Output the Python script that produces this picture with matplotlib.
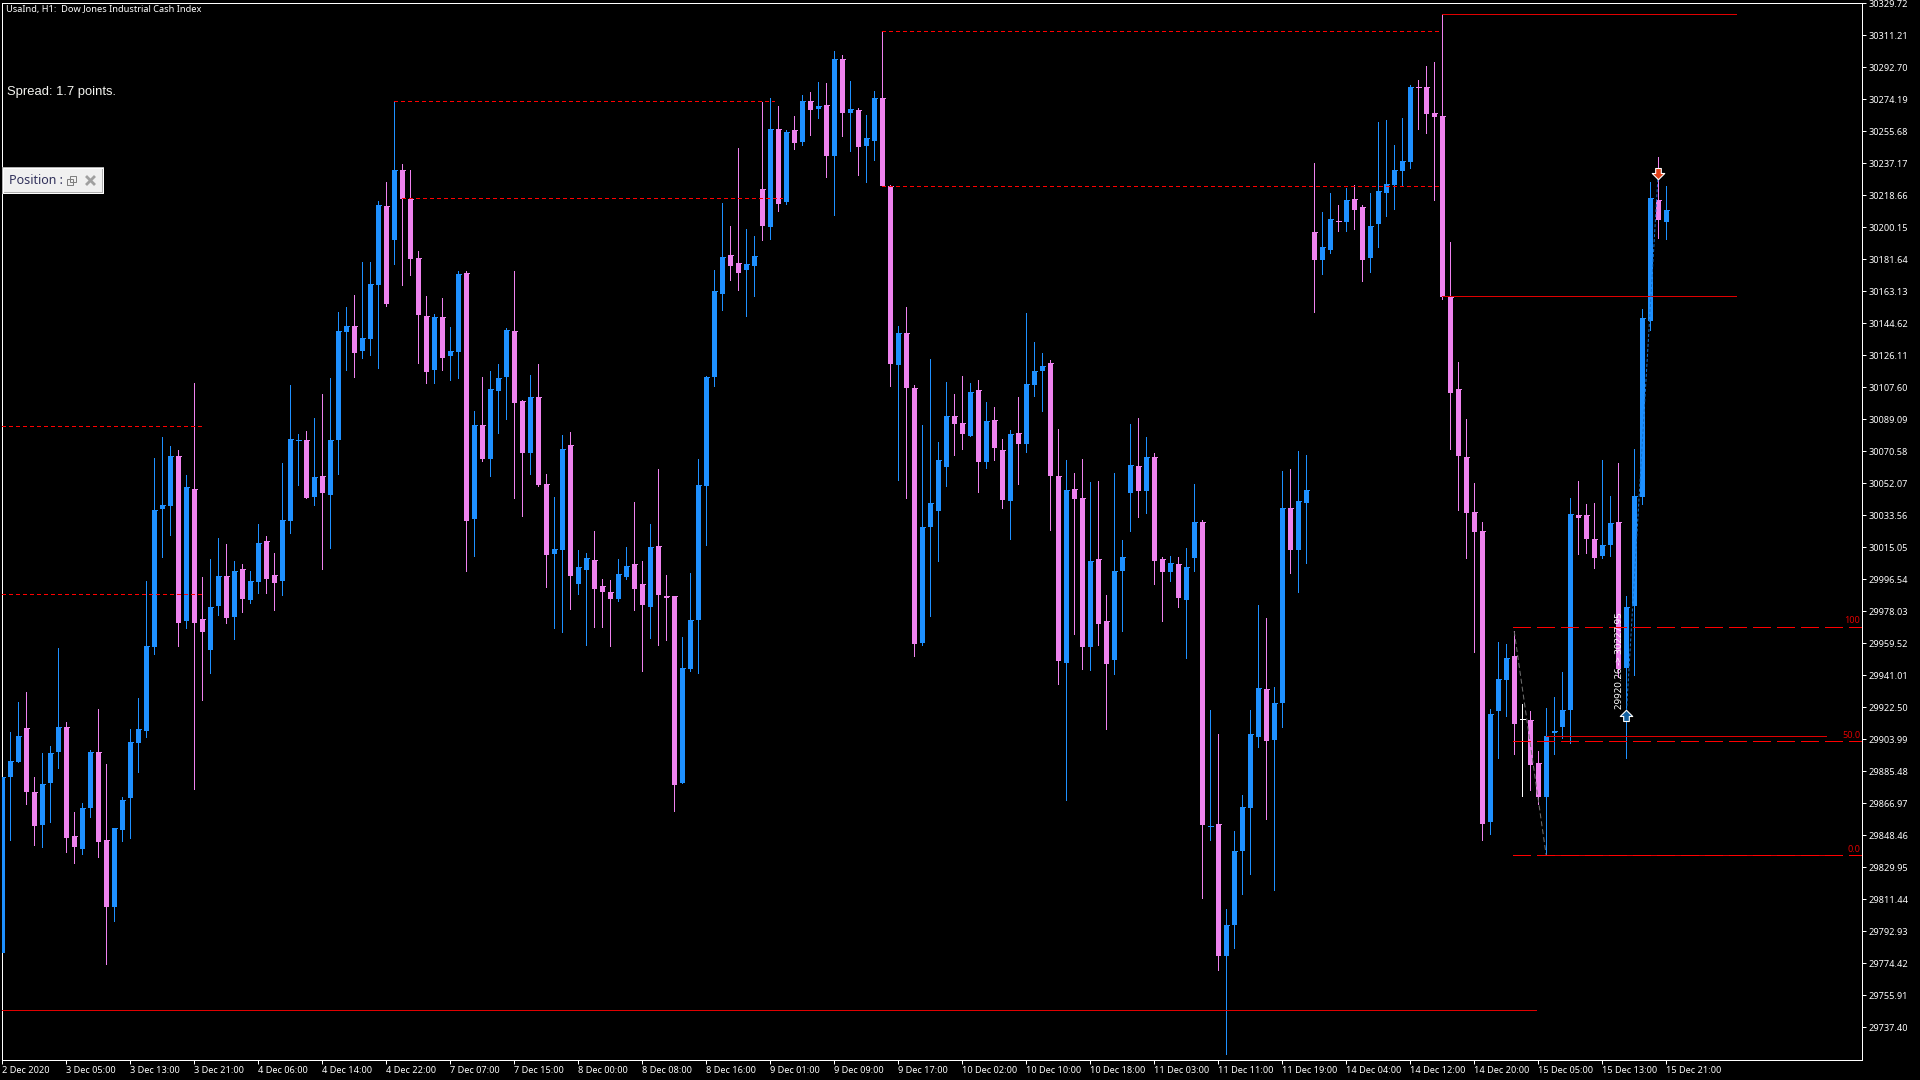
import matplotlib
matplotlib.use("Agg")
import matplotlib.pyplot as plt
from matplotlib.patches import Rectangle
from matplotlib.transforms import ScaledTranslation
import numpy as np

# hourly candles, one entry per bar: u = rising, d = falling, f = flat
directions = (
    "uuudduuudd" "uudduuuuuu" "uududduudu" "duudduuudu" "duuuduuudu"
    "dddduduudu" "duuudduddu" "uduuddduud" "duddduuuuu" "udduududud"
    "ududududuu" "ddudduuuud" "dududduduu" "uddudduddu" "uududduduu"
    "duduuuuudu" "uduuduudud" "duuuuuuddd" "dddddduuud" "fdduuuuddd"
    "uuduuuudu"
)
highs = [
    29882.1, 29908.0, 29925.5, 29931.3, 29882.1, 29896.0, 29900.0, 29956.6, 29913.9, 29861.8,
    29866.9, 29897.6, 29921.3, 29889.6, 29852.6, 29870.5, 29909.8, 29927.7, 29995.4, 30066.6,
    30078.7, 30073.5, 30071.1, 30056.8, 30110.0, 29997.6, 30008.1, 30020.3, 30017.1, 30007.0,
    30005.2, 30001.2, 30028.3, 30021.5, 30011.5, 30063.8, 30108.8, 30080.5, 30082.3, 30089.7,
    30103.6, 30112.8, 30151.0, 30154.0, 30160.8, 30179.9, 30179.9, 30215.1, 30226.3, 30272.9,
    30236.6, 30233.1, 30186.2, 30160.4, 30149.8, 30159.2, 30142.2, 30174.7, 30174.7, 30093.8,
    30113.4, 30117.0, 30121.0, 30141.9, 30174.7, 30100.2, 30114.6, 30121.0, 30057.4, 30044.1,
    30079.9, 30081.7, 30013.3, 30011.5, 30024.3, 29996.6, 29996.0, 30008.1, 30015.1, 30041.0,
    30006.9, 30028.4, 30060.1, 29998.8, 29986.8, 29962.9, 30000.0, 30065.9, 30113.9, 30175.3,
    30214.1, 30200.8, 30245.8, 30199.0, 30195.0, 30272.5, 30274.7, 30270.1, 30256.4, 30264.3,
    30276.5, 30278.3, 30284.1, 30283.5, 30302.0, 30299.6, 30284.6, 30268.9, 30264.9, 30278.9,
    30313.3, 30224.9, 30142.8, 30154.0, 30108.8, 30085.7, 30123.9, 30075.8, 30110.5, 30103.5,
    30113.9, 30109.9, 30111.6, 30098.9, 30096.1, 30077.6, 30082.8, 30101.8, 30150.4, 30133.8,
    30127.7, 30123.1, 30083.4, 30065.3, 30058.3, 30066.4, 30052.6, 30053.2, 29987.3, 30058.3,
    30019.2, 30086.2, 30089.7, 30078.8, 30069.8, 30009.7, 30010.3, 30009.7, 30014.9, 30051.4,
    30030.7, 29920.8, 29907.0, 29805.7, 29850.9, 29871.6, 29920.8, 29981.5, 29974.0, 29934.0,
    30058.9, 30060.6, 30071.0, 30068.7, 30237.2, 30208.8, 30219.9, 30212.9, 30222.7, 30224.5,
    30212.9, 30219.9, 30261.0, 30262.1, 30247.6, 30263.1, 30282.3, 30285.2, 30293.2, 30295.6,
    30322.9, 30191.4, 30122.1, 30089.1, 30052.2, 30029.5, 29921.3, 29960.1, 29958.9, 29966.5,
    29924.2, 29920.2, 29897.1, 29921.9, 29928.3, 29942.7, 30043.4, 30053.2, 30039.9, 30040.5,
    30065.4, 30044.5, 30063.8, 29986.7, 30071.8, 30152.8, 30226.3, 30240.6, 30223.9,
]
body_tops = [
    29882.1, 29891.2, 29905.8, 29910.4, 29873.3, 29877.9, 29896.0, 29911.0, 29911.0, 29848.0,
    29864.1, 29896.4, 29896.4, 29845.6, 29852.6, 29868.7, 29902.2, 29909.8, 29957.8, 30036.5,
    30039.5, 30067.7, 30067.7, 30049.8, 30048.6, 29973.5, 29980.3, 29998.2, 29998.2, 30001.2,
    30002.4, 29995.4, 30017.3, 30018.5, 29998.8, 30030.7, 30077.5, 30076.9, 30076.9, 30055.6,
    30056.2, 30076.9, 30140.0, 30142.8, 30142.8, 30136.1, 30167.1, 30212.9, 30212.3, 30233.1,
    30233.1, 30216.7, 30182.3, 30148.6, 30148.2, 30148.2, 30128.5, 30172.9, 30173.5, 30085.7,
    30085.7, 30106.4, 30112.8, 30140.7, 30140.0, 30099.6, 30101.8, 30101.8, 30051.6, 30013.9,
    30071.8, 30074.1, 30003.5, 30008.7, 30007.5, 29992.6, 29989.0, 29999.4, 30004.1, 30005.1,
    29993.6, 30015.1, 30015.7, 29986.8, 29986.8, 29945.0, 29972.9, 30050.9, 30113.3, 30163.2,
    30182.9, 30184.1, 30179.3, 30178.7, 30183.5, 30222.1, 30256.8, 30256.8, 30255.2, 30256.4,
    30273.1, 30273.1, 30270.1, 30270.7, 30297.4, 30297.4, 30268.3, 30267.9, 30251.6, 30274.7,
    30274.7, 30223.9, 30138.9, 30138.9, 30107.0, 30026.7, 30040.6, 30065.3, 30090.8, 30090.8,
    30086.8, 30104.7, 30105.8, 30088.0, 30088.6, 30071.6, 30080.5, 30081.1, 30109.3, 30116.8,
    30120.2, 30121.4, 30056.1, 30048.0, 30048.6, 30043.4, 30007.4, 30008.0, 29972.3, 30001.1,
    30009.7, 30062.4, 30061.8, 30067.0, 30067.0, 30008.0, 30006.2, 30005.1, 30003.9, 30029.6,
    30029.6, 29854.0, 29854.9, 29796.5, 29839.6, 29864.7, 29907.0, 29933.4, 29932.9, 29924.8,
    30037.6, 30037.6, 30041.6, 30048.0, 30197.2, 30188.6, 30204.8, 30203.6, 30215.7, 30216.3,
    30211.7, 30200.8, 30220.9, 30225.1, 30233.1, 30238.4, 30281.1, 30281.1, 30281.1, 30266.1,
    30264.3, 30160.0, 30106.4, 30067.2, 30035.3, 30024.3, 29918.5, 29938.7, 29950.8, 29952.0,
    29915.8, 29915.0, 29890.1, 29905.7, 29908.6, 29920.8, 30034.1, 30033.6, 30033.6, 30019.7,
    30016.2, 30028.9, 30029.5, 29980.3, 30044.5, 30147.6, 30216.9, 30215.7, 30210.0,
]
body_bottoms = [
    29780.1, 29882.1, 29890.6, 29873.3, 29853.8, 29854.2, 29878.5, 29896.4, 29846.8, 29841.6,
    29840.4, 29864.1, 29844.4, 29806.8, 29806.8, 29851.4, 29869.9, 29901.8, 29908.6, 29957.2,
    30037.1, 30038.9, 29971.1, 29972.3, 29971.1, 29965.9, 29955.6, 29980.9, 29974.1, 29974.5,
    29985.0, 29984.4, 29994.8, 29996.6, 29994.2, 29995.4, 30030.1, 30076.5, 30043.5, 30044.1,
    30046.3, 30045.3, 30076.9, 30139.5, 30127.3, 30128.5, 30135.5, 30166.5, 30155.6, 30192.6,
    30216.7, 30181.7, 30149.2, 30116.3, 30117.5, 30124.3, 30125.5, 30127.9, 30030.1, 30031.3,
    30066.0, 30066.0, 30105.4, 30113.4, 30098.4, 30069.5, 30069.5, 30051.0, 30010.5, 30010.9,
    30013.3, 29998.4, 29993.6, 30001.8, 29990.8, 29989.0, 29985.0, 29985.0, 29997.8, 29990.8,
    29981.4, 29980.4, 29987.2, 29985.6, 29877.5, 29878.7, 29944.6, 29972.9, 30050.3, 30113.4,
    30161.4, 30177.7, 30173.5, 30175.3, 30177.7, 30200.8, 30200.2, 30213.5, 30214.5, 30248.8,
    30249.4, 30267.9, 30268.3, 30241.2, 30241.2, 30266.1, 30266.1, 30246.4, 30247.0, 30250.0,
    30223.9, 30121.0, 30120.3, 30107.0, 29958.9, 29959.5, 30026.6, 30035.8, 30061.3, 30086.2,
    30080.5, 30079.4, 30064.1, 30064.1, 30072.2, 30042.2, 30041.7, 30074.8, 30074.8, 30108.7,
    30116.8, 30056.1, 29949.0, 29948.4, 30042.8, 29957.6, 29957.6, 29970.6, 29947.8, 29949.6,
    30001.6, 30046.2, 30047.4, 30047.4, 30007.4, 30000.5, 30000.5, 29985.5, 29984.4, 30008.6,
    29854.3, 29853.5, 29778.9, 29778.9, 29796.5, 29839.1, 29864.1, 29905.2, 29903.2, 29903.8,
    29924.8, 30013.2, 30013.2, 30040.5, 30181.1, 30181.1, 30186.9, 30203.2, 30203.0, 30210.0,
    30181.1, 30182.3, 30202.0, 30219.9, 30224.5, 30232.5, 30237.8, 30280.5, 30265.5, 30263.7,
    30160.0, 30104.2, 30067.7, 30034.9, 30023.7, 29854.8, 29856.0, 29920.2, 29938.1, 29912.7,
    29915.8, 29889.0, 29870.4, 29870.4, 29907.5, 29910.9, 29920.8, 30031.8, 30019.7, 30008.7,
    30009.8, 30016.2, 29944.5, 29945.1, 29980.9, 30044.1, 30145.8, 30204.2, 30203.0,
]
lows = [
    29780.1, 29845.8, 29890.6, 29866.3, 29842.6, 29841.8, 29856.0, 29887.3, 29838.7, 29832.3,
    29837.5, 29859.0, 29835.9, 29774.1, 29798.8, 29845.0, 29846.8, 29884.9, 29905.2, 29953.2,
    30009.5, 30022.2, 29957.8, 29968.1, 29875.1, 29926.5, 29942.2, 29975.7, 29971.1, 29961.9,
    29977.5, 29982.7, 29988.4, 29988.4, 29978.7, 29987.2, 30023.3, 30051.0, 30043.5, 30039.5,
    30002.4, 30014.5, 30057.4, 30117.5, 30113.4, 30124.3, 30126.1, 30118.5, 30154.4, 30178.7,
    30166.5, 30172.3, 30121.5, 30110.0, 30110.0, 30117.5, 30111.8, 30112.8, 30001.2, 30009.9,
    30064.8, 30056.2, 30081.1, 30089.1, 30043.5, 30033.1, 30057.4, 30050.4, 29992.0, 29968.3,
    29965.9, 29979.2, 29987.8, 29958.3, 29968.7, 29968.7, 29957.7, 29983.8, 29996.6, 29978.6,
    29943.4, 29962.5, 29958.3, 29961.3, 29862.3, 29878.7, 29943.4, 29942.2, 30016.3, 30108.2,
    30152.2, 30169.6, 30163.8, 30148.8, 30160.4, 30192.6, 30193.2, 30209.4, 30213.5, 30245.2,
    30247.6, 30253.4, 30263.1, 30229.1, 30207.2, 30252.8, 30244.2, 30230.3, 30226.3, 30238.8,
    30223.9, 30108.2, 30053.8, 30043.5, 29952.0, 29958.3, 29975.1, 30006.9, 30050.3, 30068.3,
    30072.1, 30079.4, 30046.9, 30061.2, 30065.3, 30037.6, 30019.8, 30051.4, 30069.9, 30102.4,
    30093.8, 30025.0, 29935.8, 29869.0, 29964.8, 29944.4, 29943.8, 29958.8, 29909.9, 29941.5,
    29966.5, 30024.4, 30032.4, 30034.7, 29993.6, 29972.3, 29995.3, 29980.4, 29951.3, 30001.1,
    29812.0, 29846.0, 29770.3, 29721.7, 29783.5, 29814.3, 29825.8, 29899.8, 29857.8, 29816.6,
    29911.0, 29999.9, 29989.0, 30006.2, 30151.0, 30172.9, 30185.1, 30197.8, 30197.8, 30199.0,
    30168.9, 30174.1, 30188.6, 30206.6, 30210.6, 30224.5, 30234.3, 30256.8, 30254.6, 30215.7,
    30158.8, 30071.8, 30036.5, 30008.7, 29954.5, 29845.6, 29849.0, 29893.0, 29917.3, 29895.3,
    29871.0, 29874.5, 29866.4, 29836.9, 29895.3, 29904.6, 29901.7, 30011.0, 30011.6, 30002.9,
    30008.7, 30009.8, 29940.0, 29893.0, 29941.0, 30040.1, 30140.7, 30193.8, 30193.2,
]

price_ticks = [
    30329.72, 30311.21, 30292.70, 30274.19, 30255.68, 30237.17, 30218.66, 30200.15, 30181.64,
    30163.13, 30144.62, 30126.11, 30107.60, 30089.09, 30070.58, 30052.07, 30033.56, 30015.05,
    29996.54, 29978.03, 29959.52, 29941.01, 29922.50, 29903.99, 29885.48, 29866.97, 29848.46,
    29829.95, 29811.44, 29792.93, 29774.42, 29755.91, 29737.40,
]
time_labels = [
    "2 Dec 2020", "3 Dec 05:00", "3 Dec 13:00", "3 Dec 21:00", "4 Dec 06:00", "4 Dec 14:00",
    "4 Dec 22:00", "7 Dec 07:00", "7 Dec 15:00", "8 Dec 00:00", "8 Dec 08:00", "8 Dec 16:00",
    "9 Dec 01:00", "9 Dec 09:00", "9 Dec 17:00", "10 Dec 02:00", "10 Dec 10:00", "10 Dec 18:00",
    "11 Dec 03:00", "11 Dec 11:00", "11 Dec 19:00", "14 Dec 04:00", "14 Dec 12:00", "14 Dec 20:00",
    "15 Dec 05:00", "15 Dec 13:00", "15 Dec 21:00",
]

# levels: price, first bar, last bar
dashed_levels = [
    (30272.7, 49, 96.5), (30216.7, 50, 97.5), (30313.3, 110, 180), (30223.7, 110, 180),
    (30084.9, 0, 25), (29987.6, 0, 25),
]
solid_levels = [
    (29747.0, 0, 191.75), (30323.1, 180, 216.7), (30160.2, 180, 216.7),
    (29905.5, 193, 228), (29836.7, 193, 230),
]
fib_levels = [29968.8, 29902.6, 29836.7]
fib_names = ["100", "50.0", "0.0"]
fib_start, fib_end = 188.9, 232.5
fib_trend_bars = [189, 193]
fib_trend_prices = [29966.5, 29836.9]
trade_bars = [203, 207]
trade_prices = [29917.3, 30231.7]
trade_label = "29920.26 -> 30227.95"

up_col = "#1E90FF"
down_col = "#EE82EE"
flat_col = "white"
red = "#ff0000"
px = 0.72  # one pixel in points at dpi 100

plt.rcParams["font.family"] = ["Noto Sans", "DejaVu Sans"]

fig = plt.figure(figsize=(19.2, 10.8), dpi=100, facecolor="black")
# offsets of a fraction of a pixel so the hairlines land on the right pixel rows
ax = fig.add_axes([2.2 / 1920, 1 - 1059.8 / 1080, 1860 / 1920, 1057 / 1080], facecolor="black")

bars = np.arange(len(highs))
cols = [{"u": up_col, "d": down_col, "f": flat_col}[d] for d in directions]
tops = np.array(body_tops)
bottoms = np.array(body_bottoms)
body_w = 5 / 8

ax.vlines(bars, lows, highs, colors=cols, linewidth=px, antialiased=False, zorder=2)
ax.bar(bars, tops - bottoms, bottom=bottoms, width=body_w, color=cols, linewidth=0,
       antialiased=False, zorder=3)
# keeps the flat and nearly flat bodies visible
ax.hlines(tops, bars - body_w / 2, bars + body_w / 2, colors=cols, linewidth=px,
          antialiased=False, zorder=3)

# same pixel rounding issue for the horizontal levels
level_trans = ax.transData + ScaledTranslation(0, 0.6 / 100, fig.dpi_scale_trans)

for price, x0, x1 in dashed_levels:
    ax.plot([x0, x1], [price, price], color=red, lw=px, ls=(0, (4, 3)), antialiased=False,
            transform=level_trans, zorder=4)
for price, x0, x1 in solid_levels:
    ax.plot([x0, x1], [price, price], color="#e00000", lw=px, antialiased=False,
            transform=level_trans, zorder=4)
for price, name in zip(fib_levels, fib_names):
    ax.plot([fib_start, fib_end], [price, price], color=red, lw=px, ls=(0, (18, 6)),
            antialiased=False, transform=level_trans, zorder=4)
    ax.annotate(name, (fib_end, price), xytext=(-1.5, 1.5), textcoords="offset points",
                ha="right", va="bottom", color="#e00000", fontsize=6.5)
ax.plot(fib_trend_bars, fib_trend_prices, color="#707070", lw=px, ls=(0, (5, 3)), zorder=5)
ax.plot(trade_bars, trade_prices, color="#1570c8", lw=px, ls=(0, (3, 2)), zorder=5)

arrow_up = [(0, 1), (1, 0), (0.45, 0), (0.45, -0.8), (-0.45, -0.8), (-0.45, 0), (-1, 0), (0, 1)]
arrow_down = [(x, -y) for x, y in arrow_up]
ax.plot(trade_bars[0], trade_prices[0], marker=arrow_up, ms=9, mfc="#12609f", mec="white", mew=0.8, zorder=6)
ax.plot(trade_bars[1], trade_prices[1], marker=arrow_down, ms=9, mfc="#e04018", mec="white", mew=0.8, zorder=6)
ax.annotate(trade_label, (trade_bars[0], trade_prices[0]), xytext=(-5, 5), textcoords="offset points",
            rotation=90, ha="center", va="bottom", color="white", fontsize=7, zorder=7)

ax.set_xlim(0, 232.5)
ax.set_ylim(30331.45 - 1059.5 * 0.5784375, 30331.45 - 2.5 * 0.5784375)

ax.yaxis.tick_right()
ax.set_yticks(price_ticks)
ax.set_yticklabels([f"{p:.2f}" for p in price_ticks])
ax.set_xticks(bars[::8])
ax.set_xticklabels(time_labels, ha="left")
ax.tick_params(axis="y", colors="white", length=3, width=px, pad=1.5, labelsize=6.6)
ax.tick_params(axis="x", colors="white", length=3, width=px, pad=1.5, labelsize=6.6)
for s in ax.spines.values():
    s.set_color("white")
    s.set_linewidth(px)

# terminal chrome, placed in pixels
chrome = fig.add_axes([0, 0, 1, 1], facecolor="none")
chrome.set_xlim(0, 1920)
chrome.set_ylim(1080, 0)
chrome.axis("off")
chrome.text(6.5, 9.3, "UsaInd, H1:  Dow Jones Industrial Cash Index", color="white", fontsize=6.65, va="center")
chrome.text(7, 91.5, "Spread: 1.7 points.", color="#f4f4f0", fontsize=9.4, va="center", family="Liberation Sans")
chrome.add_patch(Rectangle((3, 167.5), 100, 25, fc="#f0f0f0", ec="#b0b0b0", lw=2 * px))
chrome.add_patch(Rectangle((3, 167.5), 100, 25, fc="none", ec="white", lw=px))
chrome.text(9, 180, "Position :", color="#30305a", fontsize=9, va="center")
chrome.add_patch(Rectangle((66.5, 179), 6.5, 6, fc="none", ec="#808080", lw=px))
chrome.add_patch(Rectangle((70, 176), 6, 5.5, fc="none", ec="#808080", lw=px))
chrome.plot([87, 94], [177, 184], color="#a0a0a0", lw=2.0)
chrome.plot([87, 94], [184, 177], color="#a0a0a0", lw=2.0)

fig.savefig("out.png", dpi=100, facecolor="black")
